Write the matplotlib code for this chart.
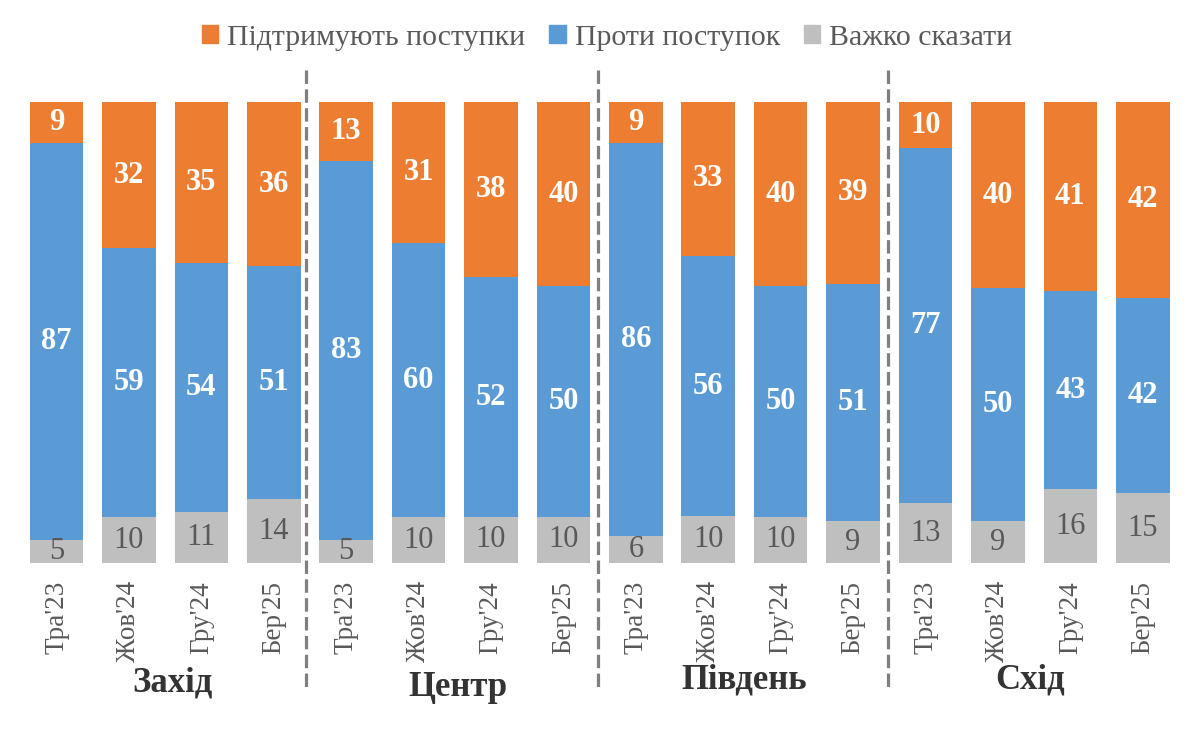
import matplotlib
matplotlib.use("Agg")
import matplotlib.pyplot as plt
from matplotlib.lines import Line2D
from matplotlib.patches import Patch
import numpy as np

plt.rcParams['font.family'] = ['Liberation Serif', 'DejaVu Serif']

months = ["Тра'23", "Жов'24", "Гру'24", "Бер'25"]
regions = ["Захід", "Центр", "Південь", "Схід"]
categories = months * 4

support = [9, 32, 35, 36, 13, 31, 38, 40, 9, 33, 40, 39, 10, 40, 41, 42]
against = [87, 59, 54, 51, 83, 60, 52, 50, 86, 56, 50, 51, 77, 50, 43, 42]
hard = [5, 10, 11, 14, 5, 10, 10, 10, 6, 10, 10, 9, 13, 9, 16, 15]

series_names = ["Підтримують поступки", "Проти поступок", "Важко сказати"]
c_orange = "#ED7D31"
c_blue = "#5B9BD5"
c_grey = "#BFBFBF"
txt_grey = "#595959"

W, H = 1200, 753
fig = plt.figure(figsize=(W / 100, H / 100), dpi=100)
ax = fig.add_axes([20.3 / W, 1 - 563 / H, (1179 - 20.3) / W, (563 - 102) / H])

x = np.arange(len(categories))
sup = np.array(support, float)
ag = np.array(against, float)
hd = np.array(hard, float)
tot = sup + ag + hd
sup_n = sup / tot * 100
ag_n = ag / tot * 100
hd_n = hd / tot * 100

bw = 0.74
ax.bar(x, hd_n, bw, color=c_grey)
ax.bar(x, ag_n, bw, bottom=hd_n, color=c_blue)
ax.bar(x, sup_n, bw, bottom=hd_n + ag_n, color=c_orange)

fs = 22
for i in range(len(x)):
    ax.text(x[i], hd_n[i] / 2, str(hard[i]), ha='center', va='center',
            color=txt_grey, fontsize=fs)
    ax.text(x[i], hd_n[i] + ag_n[i] / 2, str(against[i]), ha='center', va='center',
            color='white', fontsize=fs, fontweight='bold')
    ax.text(x[i], hd_n[i] + ag_n[i] + sup_n[i] / 2, str(support[i]), ha='center',
            va='center', color='white', fontsize=fs, fontweight='bold')

ax.set_xlim(-0.5, len(x) - 0.5)
ax.set_ylim(0, 100)
ax.set_xticks(x)
ax.set_xticklabels(categories, rotation=90, fontsize=19.5, color=txt_grey)
ax.tick_params(axis='x', length=0, pad=13)
ax.set_yticks([])
for s in ax.spines.values():
    s.set_visible(False)

# dividers
for dx in [3.45, 7.47, 11.48]:
    xf = (20.3 + (dx + 0.5) * 72.43) / W
    fig.add_artist(Line2D([xf, xf], [1 - 70 / H, 1 - 690 / H], transform=fig.transFigure,
                          color="#7F7F7F", lw=2.3, linestyle=(0, (4.2, 1.7))))

# region labels
for rx, ry, name in [(1.6, 683, regions[0]), (5.54, 688, regions[1]),
                     (9.49, 680, regions[2]), (13.44, 680, regions[3])]:
    xf = (20.3 + (rx + 0.5) * 72.43) / W
    fig.text(xf, 1 - ry / H, name, ha='center', va='center', fontsize=25,
             fontweight='bold', color="#333333")

handles = [Patch(color=c_orange), Patch(color=c_blue), Patch(color=c_grey)]
fig.legend(handles, series_names, loc='center', bbox_to_anchor=(607 / W, 1 - 38 / H),
           ncol=3, frameon=False, fontsize=21.5, handlelength=0.55, handleheight=0.55,
           handletextpad=0.3, columnspacing=0.8, labelcolor=txt_grey)

fig.savefig("out.png", dpi=100)
